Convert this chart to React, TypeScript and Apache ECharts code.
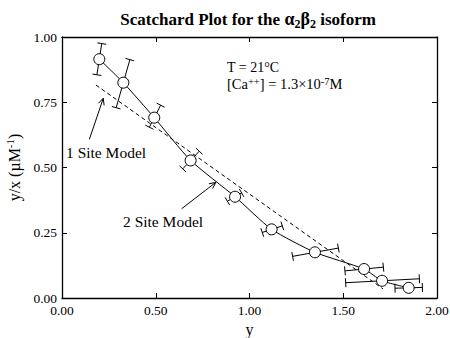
import React, { useEffect, useRef } from "react";
import * as echarts from "echarts";

// Data
const yBound = [0.199, 0.327, 0.492, 0.686, 0.923, 1.118, 1.349, 1.611, 1.707, 1.849];
const yOverX = [0.915, 0.825, 0.691, 0.527, 0.388, 0.263, 0.175, 0.111, 0.066, 0.039];
// error bar ends (in y), bars run along rays from the origin
const yLow = [0.186, 0.289, 0.466, 0.644, 0.882, 1.068, 1.23, 1.509, 1.513, 1.776];
const yHigh = [0.212, 0.362, 0.526, 0.732, 0.958, 1.175, 1.474, 1.714, 1.906, 1.922];
// 1 site model (straight line)
const oneSiteX = [0.181, 1.712];
const oneSiteY = [0.816, 0.035];
// 2 site model curve
const twoSiteX = [0.199, 0.327, 0.492, 0.686, 0.923, 1.118, 1.349, 1.611, 1.707, 1.849];
const twoSiteY = [0.915, 0.825, 0.691, 0.527, 0.388, 0.263, 0.175, 0.111, 0.066, 0.039];
const xTicks = [0, 0.5, 1, 1.5, 2];
const yTicks = [0, 0.25, 0.5, 0.75, 1];
// annotation arrows [x1, y1, x2, y2] in data units
const arrowOne = [0.146, 0.608, 0.22, 0.765];
const arrowTwo = [0.638, 0.342, 0.82, 0.443];

const FONT = "Liberation Serif";

export default function App() {
  const ref = useRef<HTMLDivElement>(null);
  useEffect(() => {
    if (!ref.current) return;
    const chart = echarts.init(ref.current, null, { renderer: "svg" });
    const stroke = { stroke: "#000", lineWidth: 1 };

    const errData = yBound.map((x, i) => [x, yOverX[i], yLow[i], yHigh[i]]);

    const axisCommon = {
      type: "value" as const,
      axisLine: { show: true, onZero: false, lineStyle: { color: "#000", width: 1.3 } },
      axisTick: { show: true, inside: true, length: 5, lineStyle: { color: "#000", width: 1 } },
      splitLine: { show: false },
    };
    const labelCommon = {
      color: "#000",
      fontFamily: FONT,
      fontSize: 13.5,
      formatter: (v: number) => v.toFixed(2),
    };

    chart.setOption({
      animation: false,
      grid: { left: 62, right: 13, top: 37, bottom: 40, containLabel: false, outerBoundsMode: "none" },
      xAxis: [
        {
          ...axisCommon,
          min: xTicks[0],
          max: xTicks[xTicks.length - 1],
          interval: xTicks[1] - xTicks[0],
          axisLabel: { ...labelCommon, margin: 5 },
          name: "y",
          nameLocation: "middle",
          nameGap: 20,
          nameTextStyle: { color: "#000", fontFamily: FONT, fontSize: 16 },
        },
        {
          ...axisCommon,
          position: "top",
          min: xTicks[0],
          max: xTicks[xTicks.length - 1],
          interval: xTicks[1] - xTicks[0],
          axisLabel: { show: false },
        },
      ],
      yAxis: [
        {
          ...axisCommon,
          min: yTicks[0],
          max: yTicks[yTicks.length - 1],
          interval: yTicks[1] - yTicks[0],
          axisLabel: { ...labelCommon, margin: 5 },
          name: "{n|y/x (µM}{p|-1}{n|)}",
          nameLocation: "middle",
          nameGap: 28,
          nameRotate: 90,
          nameTextStyle: {
            color: "#000",
            fontFamily: FONT,
            fontSize: 16,
            rich: {
              n: { fontFamily: FONT, fontSize: 16, color: "#000", lineHeight: 20, verticalAlign: "middle" },
              p: { fontFamily: FONT, fontSize: 11, color: "#000", verticalAlign: "top", lineHeight: 11 },
            },
          },
        },
        {
          ...axisCommon,
          position: "right",
          min: yTicks[0],
          max: yTicks[yTicks.length - 1],
          interval: yTicks[1] - yTicks[0],
          axisLabel: { show: false },
        },
      ],
      series: [
        {
          type: "custom",
          name: "errors",
          data: errData,
          z: 2,
          renderItem: (_p: any, api: any) => {
            const x = api.value(0);
            const v = api.value(1);
            const lo = api.value(2);
            const hi = api.value(3);
            const a = api.coord([lo, (v * lo) / x]);
            const b = api.coord([hi, (v * hi) / x]);
            const dx = b[0] - a[0];
            const dy = b[1] - a[1];
            const len = Math.hypot(dx, dy) || 1;
            const nx = (-dy / len) * 4.5;
            const ny = (dx / len) * 4.5;
            return {
              type: "group",
              children: [
                { type: "line", shape: { x1: a[0], y1: a[1], x2: b[0], y2: b[1] }, style: stroke },
                { type: "line", shape: { x1: a[0] - nx, y1: a[1] - ny, x2: a[0] + nx, y2: a[1] + ny }, style: stroke },
                { type: "line", shape: { x1: b[0] - nx, y1: b[1] - ny, x2: b[0] + nx, y2: b[1] + ny }, style: stroke },
              ],
            };
          },
        },
        {
          type: "line",
          name: "1 Site Model",
          data: oneSiteX.map((x, i) => [x, oneSiteY[i]]),
          showSymbol: false,
          z: 3,
          lineStyle: { color: "#000", width: 1, type: [4, 3] },
        },
        {
          type: "line",
          name: "2 Site Model",
          data: twoSiteX.map((x, i) => [x, twoSiteY[i]]),
          showSymbol: false,
          smooth: 0.2,
          z: 3,
          lineStyle: { color: "#000", width: 1 },
        },
        {
          type: "custom",
          name: "arrows",
          data: [arrowOne, arrowTwo],
          z: 3,
          renderItem: (_p: any, api: any) => {
            const a = api.coord([api.value(0), api.value(1)]);
            const b = api.coord([api.value(2), api.value(3)]);
            const ang = Math.atan2(b[1] - a[1], b[0] - a[0]);
            const h = 7;
            const w = 0.45;
            const p1 = [b[0] - h * Math.cos(ang - w), b[1] - h * Math.sin(ang - w)];
            const p2 = [b[0] - h * Math.cos(ang + w), b[1] - h * Math.sin(ang + w)];
            return {
              type: "group",
              children: [
                { type: "line", shape: { x1: a[0], y1: a[1], x2: b[0], y2: b[1] }, style: stroke },
                { type: "polyline", shape: { points: [p1, b, p2] }, style: { ...stroke, fill: null } },
              ],
            };
          },
        },
        {
          type: "scatter",
          name: "data",
          data: yBound.map((x, i) => [x, yOverX[i]]),
          symbol: "circle",
          symbolSize: 11,
          z: 5,
          itemStyle: { color: "#fff", borderColor: "#000", borderWidth: 1, opacity: 1 },
        },
      ],
      graphic: [
        {
          type: "text",
          x: 248,
          y: 19,
          style: {
            text: "{b|Scatchard Plot for the }{g|α}{s|2}{g|β}{s|2}{b| isoform}",
            align: "center",
            verticalAlign: "middle",
            rich: {
              b: { fontFamily: FONT, fontWeight: "bold", fontSize: 17, fill: "#000", lineHeight: 22, verticalAlign: "middle" },
              g: { fontFamily: FONT, fontWeight: "bold", fontSize: 18, fill: "#000", lineHeight: 22, verticalAlign: "middle" },
              s: { fontFamily: FONT, fontWeight: "bold", fontSize: 12, fill: "#000", lineHeight: 12, verticalAlign: "bottom" },
            },
          },
        },
        {
          type: "text",
          x: 227,
          y: 67,
          style: { text: "T = 21°C", font: `14px "${FONT}"`, fill: "#000", verticalAlign: "middle" },
        },
        {
          type: "text",
          x: 227,
          y: 84,
          style: {
            text: "{n|[Ca}{p|++}{n|] = 1.3×10}{p|-7}{n|M}",
            verticalAlign: "middle",
            rich: {
              n: { fontFamily: FONT, fontSize: 14.5, fill: "#000", lineHeight: 17, verticalAlign: "middle" },
              p: { fontFamily: FONT, fontSize: 10.5, fill: "#000", lineHeight: 10, verticalAlign: "top" },
            },
          },
        },
        {
          type: "text",
          x: 66,
          y: 152,
          style: { text: "1 Site Model", font: `15.5px "${FONT}"`, fill: "#000", verticalAlign: "middle" },
        },
        {
          type: "text",
          x: 123,
          y: 221,
          style: { text: "2 Site Model", font: `15.5px "${FONT}"`, fill: "#000", verticalAlign: "middle" },
        },
      ],
    });
    return () => chart.dispose();
  }, []);
  return (
    <div
      ref={ref}
      style={{ position: "fixed", left: 0, top: 0, width: 450, height: 338, background: "#fff" }}
    />
  );
}
